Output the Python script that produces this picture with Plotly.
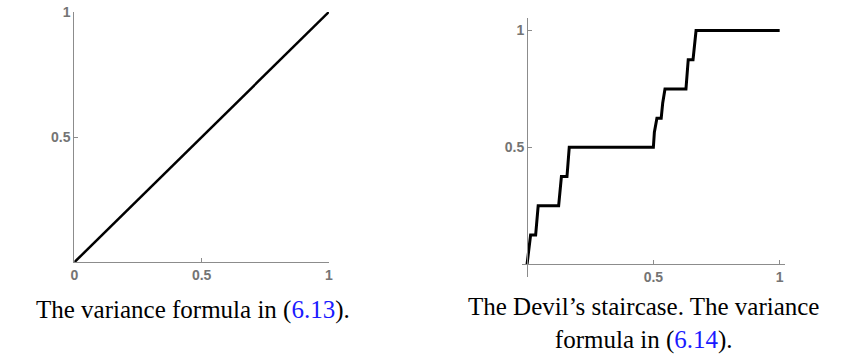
import plotly.graph_objects as go

W, H = 855, 364

# left panel: straight line
LINE_X = [0, 1]
LINE_Y = [0, 1]

# right panel: devil's staircase
STAIR_X = [0, 0.006, 0.014, 0.034, 0.038, 0.044, 0.125, 0.129, 0.136, 0.158,
           0.162, 0.167, 0.5, 0.504, 0.514, 0.531, 0.537, 0.546, 0.629, 0.633,
           0.638, 0.657, 0.662, 0.669, 1.0]
STAIR_Y = [0, 0.06, 0.125, 0.125, 0.19, 0.25, 0.25, 0.31, 0.375, 0.375,
           0.44, 0.5, 0.5, 0.565, 0.625, 0.625, 0.69, 0.75, 0.75, 0.815,
           0.875, 0.875, 0.937, 1.0, 1.0]

LEFT_XTICKS = [0, 0.5, 1]
LEFT_YTICKS = [0.5, 1]
RIGHT_TICKS = [0.5, 1]
TICK_TEXT = {0: "0", 0.5: "0.5", 1: "1"}

BLUE = "#1a1aff"
CAPTION_LEFT = f'The variance formula in (<span style="color:{BLUE}">6.13</span>).'
CAPTION_RIGHT = ("The Devil’s staircase. The variance<br>"
                 f'formula in (<span style="color:{BLUE}">6.14</span>).')

AXIS_GREY = "#8c8c8c"
tick_font = dict(family="Liberation Sans, Arial", size=14, color="#747474", weight="bold")
caption_font = dict(family="Liberation Serif", size=25, color="black")


def axis_style(tickvals):
    return dict(
        tickvals=tickvals,
        ticktext=[TICK_TEXT[v] for v in tickvals],
        showgrid=False, zeroline=False,
        showline=True, linecolor=AXIS_GREY, linewidth=1,
        ticks="inside", ticklen=4, tickcolor=AXIS_GREY, tickwidth=1,
        tickfont=tick_font, ticklabeloverflow="allow",
    )


def caption(text, xc, yc):
    return dict(text=text, x=xc / W, y=1 - yc / H, xref="paper", yref="paper",
                xanchor="center", yanchor="middle", showarrow=False,
                align="center", font=caption_font)


fig = go.Figure()

fig.add_trace(go.Scatter(
    x=LINE_X, y=LINE_Y, mode="lines",
    line=dict(color="black", width=2.5),
    xaxis="x", yaxis="y", showlegend=False,
))

fig.add_trace(go.Scatter(
    x=STAIR_X, y=STAIR_Y, mode="lines",
    line=dict(color="black", width=3),
    xaxis="x2", yaxis="y2", showlegend=False,
))

fig.update_layout(
    width=W, height=H,
    margin=dict(l=0, r=0, t=0, b=0),
    paper_bgcolor="white", plot_bgcolor="white",
    xaxis=dict(domain=[71 / W, 328 / W], range=[0, 1], anchor="y",
               **axis_style(LEFT_XTICKS)),
    yaxis=dict(domain=[104 / H, 360 / H], range=[0, 1], anchor="x",
               **axis_style(LEFT_YTICKS)),
    xaxis2=dict(domain=[523 / W, 788 / W], range=[-5 / 255, 1 + 5 / 255],
                anchor="free", position=(H - 262) / H,
                **axis_style(RIGHT_TICKS)),
    yaxis2=dict(domain=[89 / H, 354 / H], range=[-13 / 239, 1 + 13 / 239],
                anchor="free", position=528 / W,
                **axis_style(RIGHT_TICKS)),
    annotations=[
        caption(CAPTION_LEFT, 191, 309),
        caption(CAPTION_RIGHT, 646, 323),
    ],
)

fig.write_html("out.html", config={"displayModeBar": False},
               post_script="document.body.style.margin = '0';")
